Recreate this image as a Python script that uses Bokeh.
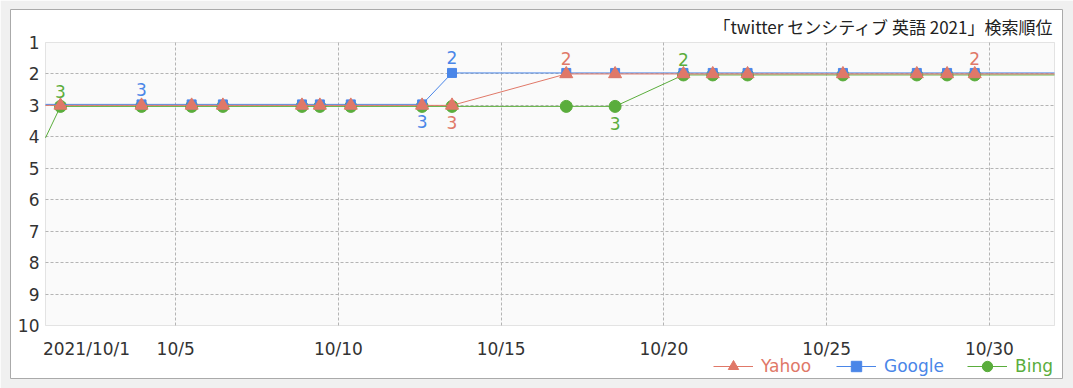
import numpy as np
from bokeh.plotting import figure
from bokeh.models import (Range1d, Label, Legend, LegendItem, BoxAnnotation,
                          FixedTicker, ColumnDataSource, Grid)
from bokeh.core.properties import value
from bokeh.embed import file_html
from bokeh.resources import INLINE

# ---- data (x = day of October 2021, fractional: 1.0 = 10/1 00:00) ----
days = [1.46, 3.95, 5.49, 6.45, 8.88, 9.43, 10.38, 12.57, 13.49,
        17.0, 18.5, 20.6, 21.5, 22.57, 25.5, 27.77, 28.7, 29.55]
yahoo = [3, 3, 3, 3, 3, 3, 3, 3, 3, 2, 2, 2, 2, 2, 2, 2, 2, 2]
google = [None, 3, 3, 3, 3, 3, 3, 3, 2, 2, 2, 2, 2, 2, 2, 2, 2, 2]
bing = [3, 3, 3, 3, 3, 3, 3, 3, 3, 3, 3, 2, 2, 2, 2, 2, 2, 2]

# neighbouring observations just outside the visible window
day_before, day_after = 0.54, 32.5
yahoo_before, google_before, bing_before = 3, 3, 5
yahoo_after, google_after, bing_after = 2, 2, 2

# indices of points whose rank is annotated: above (-1) or below (+1)
yahoo_marks = {8: 1, 9: -1, 17: -1}
google_marks = {1: -1, 7: 1, 8: -1}
bing_marks = {0: -1, 10: 1, 11: -1}

x_window = (1, 32)          # 10/1 .. 11/1
y_window = (1, 10)          # rank 1 .. 10
x_ticks = [5, 10, 15, 20, 25, 30]
x_tick_labels = ["10/5", "10/10", "10/15", "10/20", "10/25", "10/30"]
first_day_label = "2021/10/1"
y_ticks = [1, 2, 3, 4, 5, 6, 7, 8, 9, 10]
y_grid = [2, 3, 4, 5, 6, 7, 8, 9]
title_text = "「twitter センシティブ 英語 2021」検索順位"

YAHOO_C = "#e07868"
GOOGLE_C = "#4a86e8"
BING_C = "#5aad3c"
FONT = "DejaVu Sans"

# ---- layout: the frame is the white panel; plot area sits inside it ----
W, H = 1073, 388
PANEL = dict(left=10, right=11, top=9, bottom=10)
AREA = dict(left=45, right=1054, top=42, bottom=325)    # canvas px of plot area
xpx = (AREA["right"] - AREA["left"]) / (x_window[1] - x_window[0])
ypx = (AREA["bottom"] - AREA["top"]) / (y_window[1] - y_window[0])
x0 = x_window[0] - (AREA["left"] - PANEL["left"]) / xpx
x1 = x_window[1] + (W - PANEL["right"] - AREA["right"]) / xpx
ytop = y_window[0] - (AREA["top"] - PANEL["top"]) / ypx
ybot = y_window[1] + (H - PANEL["bottom"] - AREA["bottom"]) / ypx
d = 1.0 / ypx   # one pixel in rank units

p = figure(width=W, height=H, output_backend="svg", toolbar_location=None,
           x_range=Range1d(x0, x1), y_range=Range1d(ybot, ytop),
           min_border_left=PANEL["left"], min_border_right=PANEL["right"],
           min_border_top=PANEL["top"], min_border_bottom=PANEL["bottom"])
p.extra_y_ranges = {"g": Range1d(ybot + d, ytop + d), "b": Range1d(ybot - d, ytop - d)}

p.border_fill_color = "#f0f0f0"
p.background_fill_color = "white"
p.outline_line_color = "#aaaaaa"

# plot area
p.add_layout(BoxAnnotation(left=x_window[0], right=x_window[1],
                           top=y_window[0], bottom=y_window[1],
                           fill_color="#fafafa", fill_alpha=1,
                           line_color="#aaaaaa", line_width=1, level="image"))

# axes drawn at the plot-area edges
p.xaxis.fixed_location = y_window[1]
p.yaxis.fixed_location = x_window[0]
p.xaxis.ticker = FixedTicker(ticks=x_ticks)
p.xaxis.major_label_overrides = {t: l for t, l in zip(x_ticks, x_tick_labels)}
p.yaxis.ticker = FixedTicker(ticks=y_ticks)
for ax in (p.xaxis[0], p.yaxis[0]):
    ax.axis_line_color = None
    ax.major_tick_line_color = None
    ax.minor_tick_line_color = None
    ax.major_label_text_font = FONT
    ax.major_label_text_font_size = "17px"
    ax.major_label_text_color = "#333333"
p.xaxis.major_label_standoff = 7
p.yaxis.major_label_standoff = 0
p.yaxis.major_label_text_align = "left"

# grid
GRID_C, GRID_DASH = "#b4b4b4", "3 2"
if "cross_bounds" in Grid.properties():
    p.xgrid.ticker = FixedTicker(ticks=x_ticks)
    p.ygrid.ticker = FixedTicker(ticks=y_grid)
    p.xgrid.cross_bounds = y_window
    p.ygrid.cross_bounds = x_window
    for g in (p.xgrid[0], p.ygrid[0]):
        g.grid_line_color = GRID_C
        g.grid_line_dash = GRID_DASH
        g.grid_line_width = 1
else:
    p.xgrid.visible = False
    p.ygrid.visible = False
    p.segment(x0=x_ticks, x1=x_ticks, y0=[y_window[0]] * len(x_ticks),
              y1=[y_window[1]] * len(x_ticks), line_color=GRID_C,
              line_dash=GRID_DASH, line_width=1)
    p.segment(x0=[x_window[0]] * len(y_grid), x1=[x_window[1]] * len(y_grid),
              y0=y_grid, y1=y_grid, line_color=GRID_C, line_dash=GRID_DASH,
              line_width=1)

# first date label (under the plot-area corner)
p.add_layout(Label(x=76, y=30, x_units="screen", y_units="screen",
                   text=first_day_label, text_align="center",
                   text_baseline="middle", text_font=FONT,
                   text_font_size="17px", text_color="#333333"))
# title
p.add_layout(Label(x=1043, y=352, x_units="screen", y_units="screen",
                   text=title_text, text_align="right", text_baseline="middle",
                   text_font="Noto Sans CJK JP", text_font_size="17px",
                   text_color="#222222"))


def clipped_line(vals, before, after):
    xs = [day_before] + [dd for dd, v in zip(days, vals) if v is not None] + [day_after]
    ys = [before] + [v for v in vals if v is not None] + [after]
    lo, hi = x_window
    inner = [(x, y) for x, y in zip(xs, ys) if lo <= x <= hi]
    pts = [(lo, float(np.interp(lo, xs, ys)))] + inner + [(hi, float(np.interp(hi, xs, ys)))]
    return [q[0] for q in pts], [q[1] for q in pts]


def series(vals, before, after, color, marker, size, rng, marks, name, legend_x):
    xs = [dd for dd, v in zip(days, vals) if v is not None]
    ys = [v for v in vals if v is not None]
    lx, ly = clipped_line(vals, before, after)
    kw = {} if rng is None else {"y_range_name": rng}
    lr = p.line(lx, ly, line_color=color, line_width=1, **kw)
    sr = p.scatter(xs, ys, marker=marker, size=size,
                   fill_color=color, line_color=color, **kw)
    tx = [days[i] for i in marks]
    ty = [vals[i] for i in marks]
    tt = [str(vals[i]) for i in marks]
    to = [-15 if s < 0 else 17 for s in marks.values()]
    p.text(x=tx, y=ty, text=tt, y_offset=to, text_align="center",
           text_baseline="middle", text_font=value(FONT),
           text_font_size="17px", text_color=color, **kw)
    leg = Legend(items=[LegendItem(label=name, renderers=[lr, sr])],
                 location=(legend_x, -1), orientation="horizontal",
                 padding=0, margin=0, border_line_color=None,
                 background_fill_alpha=0, glyph_width=40, glyph_height=26,
                 label_height=26, label_standoff=8,
                 label_text_font=FONT, label_text_font_size="17px",
                 label_text_color=color, label_text_baseline="middle")
    p.add_layout(leg, "center")


series(bing, bing_before, bing_after, BING_C, "circle", 12, "b", bing_marks, "Bing", 957)
series(google, google_before, google_after, GOOGLE_C, "square", 9, "g", google_marks, "Google", 826)
series(yahoo, yahoo_before, yahoo_after, YAHOO_C, "triangle", 13, None, yahoo_marks, "Yahoo", 703)

open("out.html", "w").write(file_html(p, INLINE))
